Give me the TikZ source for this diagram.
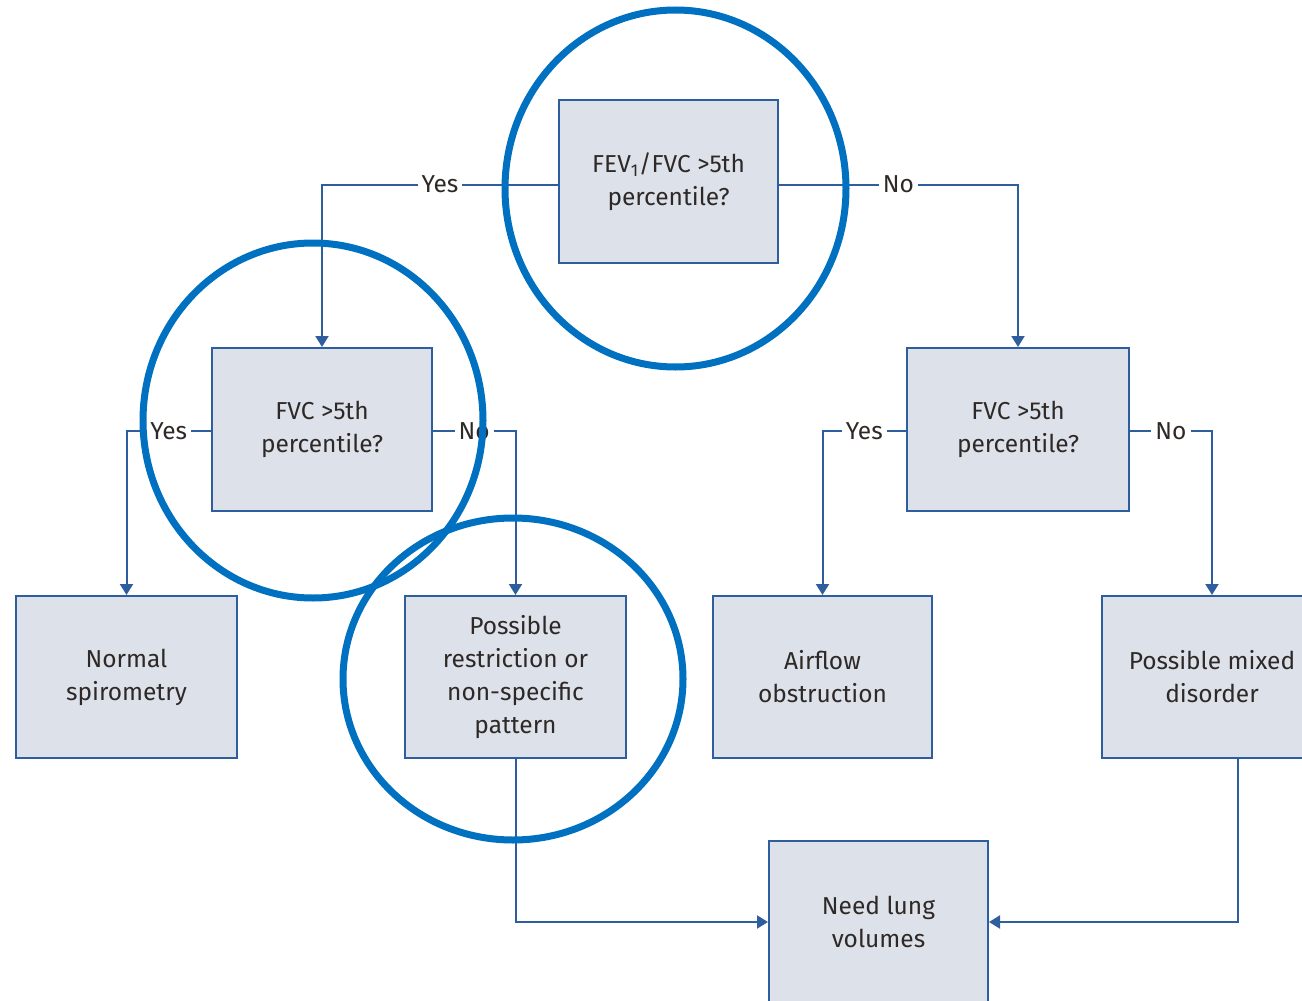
\documentclass[tikz,border=0pt]{standalone}
\usepackage{fontspec}
\setmainfont{Fira Sans}
\usetikzlibrary{arrows.meta}
\definecolor{boxfill}{HTML}{DCE1EA}
\definecolor{boxline}{HTML}{2F5E9E}
\definecolor{ringblue}{HTML}{0070C0}
\definecolor{txt}{HTML}{2E2926}
\begin{document}
\begin{tikzpicture}[x=1pt,y=-1pt,
  box/.style={draw=boxline, line width=2pt, fill=boxfill, minimum width=220pt, minimum height=162pt, align=center, text=txt, font=\fontsize{24.5}{33}\selectfont, inner sep=0pt},
  conn/.style={draw=boxline, line width=2pt, -{Triangle[width=13pt,length=11pt]}},
  lab/.style={fill=white, text=txt, font=\fontsize{24.5}{28}\selectfont, inner sep=4pt},
  ring/.style={draw=ringblue, line width=7pt}]
\useasboundingbox (0,0) rectangle (1302,1001);
\clip (0,0) rectangle (1302,1001);
\node[box, minimum width=219pt, minimum height=163pt] (q1) at (668.5,181.5) {FEV\textsubscript{1}/FVC >5th\\percentile?};
\node[box, minimum height=163pt] (q2) at (322,429.5) {FVC >5th\\percentile?};
\node[box, minimum width=222pt, minimum height=163pt] (q3) at (1018,429.5) {FVC >5th\\percentile?};
\node[box, minimum width=221pt] (r1) at (126.5,677) {Normal\\spirometry};
\node[box, minimum width=221pt] (r2) at (515.5,677) {Possible\\restriction or\\non-specific\\pattern};
\node[box, minimum width=219pt] (r3) at (822.5,677) {Airflow\\obstruction};
\node[box] (r4) at (1212,677) {Possible mixed\\disorder};
\node[box, minimum width=219pt] (r5) at (878.5,922) {Need lung\\volumes};
\draw[conn] ([yshift=-3pt]q1.west) -| node[lab,pos=0.25]{Yes} (q2.north);
\draw[conn] ([yshift=-3pt]q1.east) -| node[lab,pos=0.25]{No} (q3.north);
\draw[conn] ([yshift=-1.5pt]q2.west) -| node[lab,pos=0.25]{Yes} (r1.north);
\draw[conn] ([yshift=-1.5pt]q2.east) -| node[lab,pos=0.25]{No} (r2.north);
\draw[conn] ([yshift=-1.5pt]q3.west) -| node[lab,pos=0.25]{Yes} (r3.north);
\draw[conn] ([yshift=-1.5pt]q3.east) -| node[lab,pos=0.25]{No} (r4.north);
\draw[conn] (r2.south) |- (r5.west);
\draw[conn] ([xshift=26pt]r4.south) |- (r5.east);
\draw[ring] (675.5,188.5) ellipse [x radius=170.5, y radius=178.5];
\draw[ring] (313,420.5) ellipse [x radius=170, y radius=177.5];
\draw[ring] (513,679) ellipse [x radius=170, y radius=161];
\end{tikzpicture}
\end{document}
